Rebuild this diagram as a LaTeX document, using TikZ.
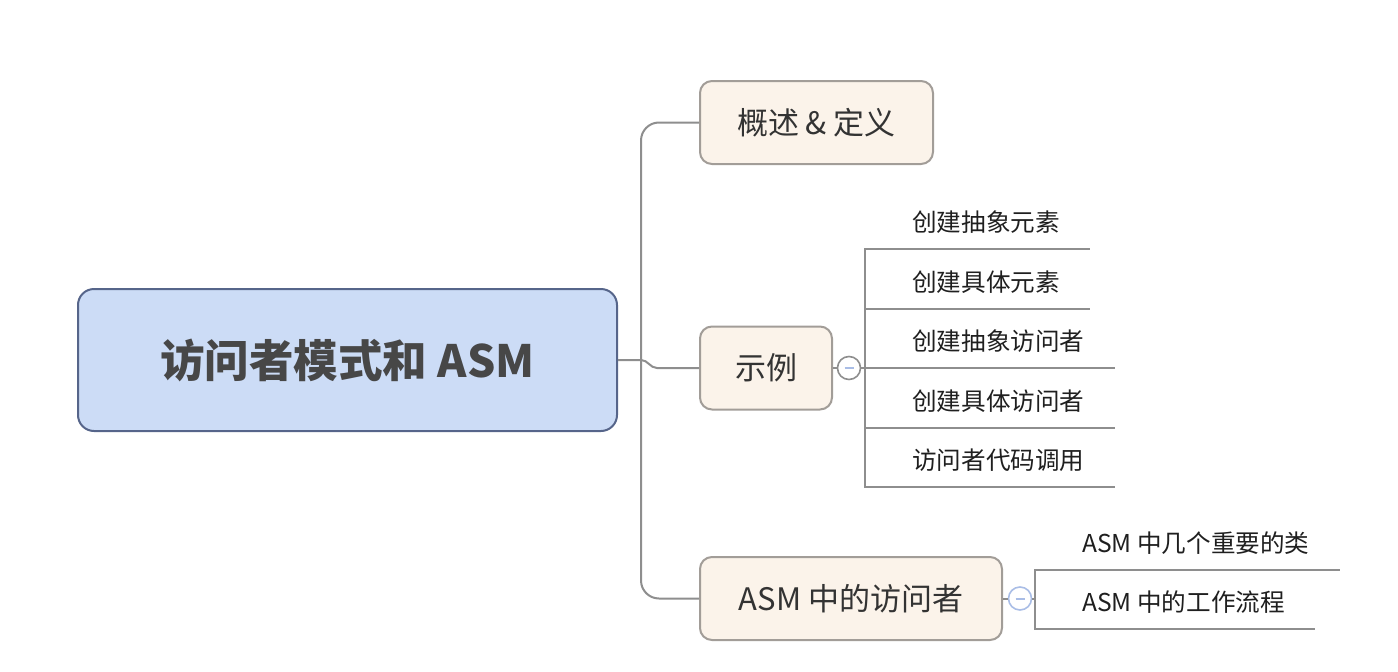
\documentclass[tikz,border=0pt]{standalone}
\usepackage{fontspec}
\newfontfamily\cjk{Noto Sans CJK SC}
\usetikzlibrary{calc}
\definecolor{rootfill}{HTML}{CCDCF6}
\definecolor{rootline}{HTML}{56658A}
\definecolor{topicfill}{HTML}{FBF3EA}
\definecolor{topicline}{HTML}{A29D98}
\definecolor{linkgray}{HTML}{8E8E8E}
\definecolor{foldblue}{HTML}{A9BDE6}
\begin{document}
\begin{tikzpicture}[x=1pt, y=-1pt,
    rootbox/.style={draw=rootline, fill=rootfill, line width=2pt, rounded corners=16pt, minimum width=539pt, minimum height=142pt, text=black!72, font=\cjk\bfseries\fontsize{44.5}{50}\selectfont},
    topic/.style={draw=topicline, fill=topicfill, line width=2pt, rounded corners=12pt, minimum height=83pt, text=black!80, font=\cjk\fontsize{31}{36}\selectfont},
    leaf/.style={anchor=west, inner sep=0pt, minimum height=53pt, text=black!88, font=\cjk\fontsize{24.6}{28}\selectfont},
    link/.style={draw=linkgray, line width=2pt},
    fold/.style={circle, draw=#1, fill=white, line width=1.6pt, minimum size=23pt, inner sep=0pt, text=foldblue}]
                    \useasboundingbox (0,0) rectangle (1398,672);
                    \node [rootbox] (root) at (347.5,360) {访问者模式和 ASM};
                    \node [topic, minimum width=233pt] (def) at (816.5,122.5) {概述 \& 定义};
                    \node [topic, minimum width=132pt] (ex) at (766,368) {示例};
                    \node [topic, minimum width=302pt] (asm) at (851,598.5) {ASM 中的访问者};
                    % trunk from the root to the three topics
                    \coordinate (trunk) at (641,360);
                    \draw [link, rounded corners=18pt] (def.west) -| (trunk) |- (asm.west);
                    \draw [link] (root.east) -- (trunk) to[out=0, in=180] ($(ex.west)+(-42,0)$) -- (ex.west);
                    % 示例
                    \node [fold=linkgray] (exfold) at (849,368) {\rule{9pt}{2pt}};
                    \coordinate (exspine) at (865,368);
                    \draw [link] (ex.east) -- (exfold) -- (exspine);
                    \foreach \t [count=\i] in {创建抽象元素,创建具体元素,创建抽象访问者,创建具体访问者,访问者代码调用} {
                        \node [leaf] (ex\i) at (912,{222.5+59.5*(\i-1)}) {\t};
                        \draw [link, line cap=rect] (exspine |- ex\i.south) -- ([xshift=29pt]ex\i.south east);
                    }
                    \draw [link, line cap=rect] (exspine |- ex1.south) -- (exspine |- ex5.south);
                    % ASM 中的访问者
                    \node [fold=foldblue] (asmfold) at (1020,598.5) {\rule{9pt}{2pt}};
                    \coordinate (asmspine) at (1035,598.5);
                    \draw [link] (asm.east) -- (asmfold) -- (asmspine);
                    \foreach \t [count=\i] in {ASM 中几个重要的类,ASM 中的工作流程} {
                        \node [leaf] (asm\i) at (1082,{543.5+59*(\i-1)}) {\t};
                        \draw [link, line cap=rect] (asmspine |- asm\i.south) -- ([xshift=29pt]asm\i.south east);
                    }
                    \draw [link, line cap=rect] (asmspine |- asm1.south) -- (asmspine |- asm2.south);
                \end{tikzpicture}
\end{document}
